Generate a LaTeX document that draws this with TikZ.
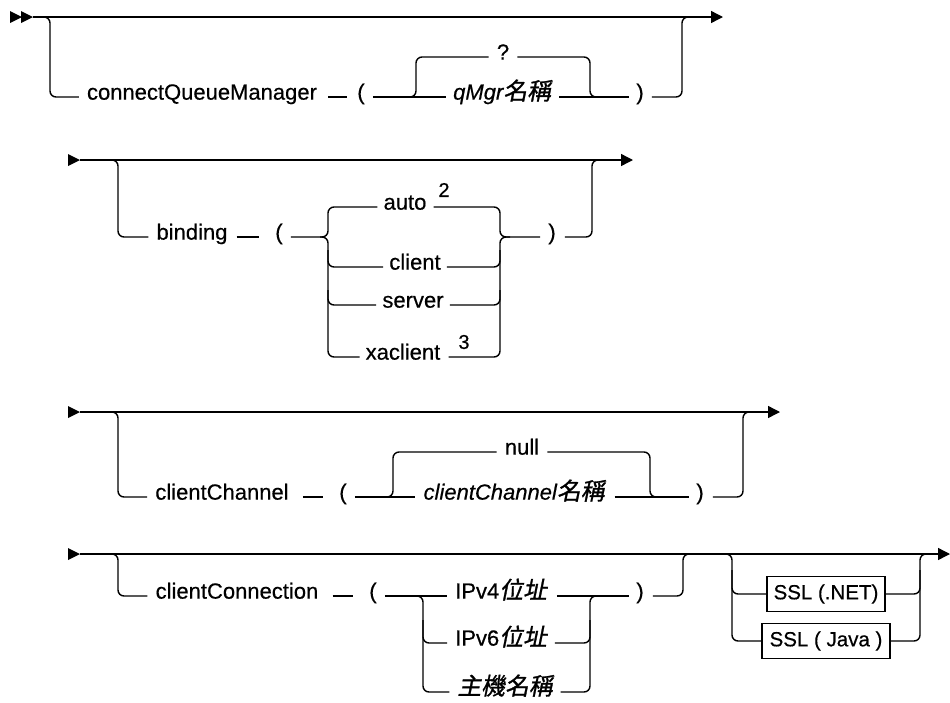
\documentclass[tikz,border=0pt]{standalone}
\usepackage{fontspec}
\setmainfont{Liberation Sans}[FakeBold=0.5]
\newfontfamily\cjki{Noto Sans CJK TC}[FakeSlant=0.2,FakeBold=1.2,Scale=1.08]
\usetikzlibrary{arrows.meta}
\newcommand{\zh}[1]{{\cjki #1}}
\begin{document}
\begin{tikzpicture}[x=1pt,y=-1pt,
  ln/.style={line width=1.4pt},
  rc/.style={rounded corners=6pt},
  kw/.style={inner sep=0pt,anchor=mid,font=\fontsize{22}{26}\selectfont},
  sup/.style={inner sep=0pt,anchor=center,font=\fontsize{20}{24}\selectfont},
  sslbox/.style={draw,line width=1.4pt,inner sep=0pt,minimum height=35pt,font=\fontsize{20.5}{25}\selectfont},
  endarrow/.style={-{Triangle[length=12pt,width=12pt]}}]
\useasboundingbox (0,0) rectangle (950,702);

% ---------------- Row 1 ----------------
\fill (10,11) -- (22,17) -- (10,23) -- cycle;
\fill (21,11) -- (33,17) -- (21,23) -- cycle;
\coordinate (s1) at (33,17);
\coordinate (e1) at (723,17);
\draw[ln,endarrow] (s1) -- (e1);
\node[kw] (cqm) at (202,97) {connectQueueManager};
\node[kw] (lp1) at (361,97) {(};
\node[kw] (q) at (503,57) {?};
\node[kw] (qm) at (502,97) {\itshape qMgr\zh{名稱}};
\node[kw] (rp1) at (640,97) {)};
\draw[ln,rc] (s1) -| (50,97) -- ([xshift=-8pt]cqm.mid west);
\draw[ln] ([xshift=11pt]cqm.mid east) -- ([xshift=-10pt]lp1.mid west);
\draw[ln] ([xshift=8pt]lp1.mid east) -- ([xshift=-7pt]qm.mid west);
\draw[ln,rc] (405,97) -- (416,97) -- (416,57) -- ([xshift=-8pt]q.mid west);
\draw[ln,rc] ([xshift=8pt]q.mid east) -- (590,57) -- (590,97) -- (602,97);
\draw[ln] ([xshift=8pt]qm.mid east) -- ([xshift=-7pt]rp1.mid west);
\draw[ln,rc] ([xshift=8pt]rp1.mid east) -- (682,97) -- (682,17) -- (694,17);

% ---------------- Row 2 ----------------
\fill (68,154) -- (80,160) -- (68,166) -- cycle;
\coordinate (s2) at (80,160);
\coordinate (e2) at (633,160);
\draw[ln,endarrow] (s2) -- (e2);
\node[kw] (bind) at (192,237) {binding};
\node[kw] (lp2) at (279,237) {(};
\node[kw] (auto) at (405,207) {auto};
\node[sup] (sa) at (444,190) {2};
\node[kw] (client) at (415,267) {client};
\node[kw] (server) at (413,305) {server};
\node[kw] (xac) at (403,357) {xaclient};
\node[sup] (sb) at (464,342) {3};
\node[kw] (rp2) at (552,237) {)};
\draw[ln,rc] (s2) -| (118,237) -- ([xshift=-8pt]bind.mid west);
\draw[ln] ([xshift=9pt]bind.mid east) -- ([xshift=-16pt]lp2.mid west);
\draw[ln,rc] ([xshift=8pt]lp2.mid east) -- (328,237) -- (328,207) -- ([xshift=-6pt]auto.mid west);
\draw[ln,rc] (320,237) -- (328,237) -- (328,357) -- ([xshift=-6pt]xac.mid west);
\draw[ln,rc] (328,250) -- (328,267) -- ([xshift=-6pt]client.mid west);
\draw[ln,rc] (328,290) -- (328,305) -- ([xshift=-6pt]server.mid west);
\draw[ln,rc] ([xshift=7pt]auto.mid east) -- (500,207) -- (500,237) -- ([xshift=-8pt]rp2.mid west);
\draw[ln,rc] ([xshift=8pt]xac.mid east) -- (500,357) -- (500,237) -- (510,237);
\draw[ln,rc] ([xshift=6pt]client.mid east) -- (500,267) -- (500,250);
\draw[ln,rc] ([xshift=6pt]server.mid east) -- (500,305) -- (500,290);
\draw[ln,rc] ([xshift=9pt]rp2.mid east) -- (592,237) -- (592,160) -- (602,160);

% ---------------- Row 3 ----------------
\fill (68,406) -- (80,412) -- (68,418) -- cycle;
\coordinate (s3) at (80,412);
\coordinate (e3) at (780,412);
\draw[ln,endarrow] (s3) -- (e3);
\node[kw] (cc) at (222,497) {clientChannel};
\node[kw] (lp3) at (343,497) {(};
\node[kw] (nul) at (522,452) {null};
\node[kw] (ccn) at (514,497) {\itshape clientChannel\zh{名稱}};
\node[kw] (rp3) at (700,497) {)};
\draw[ln,rc] (s3) -| (118,497) -- ([xshift=-8pt]cc.mid west);
\draw[ln] ([xshift=14pt]cc.mid east) -- ([xshift=-16pt]lp3.mid west);
\draw[ln] ([xshift=8pt]lp3.mid east) -- ([xshift=-8pt]ccn.mid west);
\draw[ln,rc] (381,497) -- (393,497) -- (393,452) -- ([xshift=-8pt]nul.mid west);
\draw[ln,rc] ([xshift=8pt]nul.mid east) -- (650,452) -- (650,497) -- (662,497);
\draw[ln] ([xshift=10pt]ccn.mid east) -- ([xshift=-7pt]rp3.mid west);
\draw[ln,rc] ([xshift=9pt]rp3.mid east) -- (743,497) -- (743,412) -- (755,412);

% ---------------- Row 4 ----------------
\fill (68,548) -- (80,554) -- (68,560) -- cycle;
\coordinate (s4) at (80,554);
\coordinate (e4) at (950,554);
\draw[ln,endarrow] (s4) -- (e4);
\node[kw] (ccon) at (237,596) {clientConnection};
\node[kw] (lp4) at (373,596) {(};
\node[kw] (ipa) at (501,596) {IPv4\zh{位址}};
\node[kw] (ipb) at (501,643) {IPv6\zh{位址}};
\node[kw] (host) at (505,692) {\zh{主機名稱}};
\node[kw] (rp4) at (640,596) {)};
\node[sslbox,minimum width=118pt] (net) at (826,594) {SSL (.NET)};
\node[sslbox,minimum width=128pt] (java) at (826,641) {SSL ( Java )};
\draw[ln,rc] (s4) -| (118,596) -- ([xshift=-8pt]ccon.mid west);
\draw[ln] ([xshift=14pt]ccon.mid east) -- ([xshift=-16pt]lp4.mid west);
\draw[ln] ([xshift=8pt]lp4.mid east) -- ([xshift=-8pt]ipa.mid west);
\draw[ln,rc] (411,596) -- (423,596) -- (423,692) -- ([xshift=-8pt]host.mid west);
\draw[ln,rc] (423,620) -- (423,643) -- ([xshift=-8pt]ipb.mid west);
\draw[ln] ([xshift=10pt]ipa.mid east) -- ([xshift=-7pt]rp4.mid west);
\draw[ln,rc] ([xshift=8pt]host.mid east) -- (590,692) -- (590,596) -- (602,596);
\draw[ln,rc] ([xshift=8pt]ipb.mid east) -- (590,643) -- (590,620);
\draw[ln,rc] ([xshift=9pt]rp4.mid east) -- (683,596) -- (683,554) -- (695,554);
\draw[ln,rc] (720,554) -- (732,554) -- (732,641) -- (java.west);
\draw[ln,rc] (732,570) -- (732,594) -- (net.west);
\draw[ln,rc] (java.east) -- (920,641) -- (920,554) -- (932,554);
\draw[ln,rc] (net.east) -- (920,594) -- (920,570);
\end{tikzpicture}
\end{document}
